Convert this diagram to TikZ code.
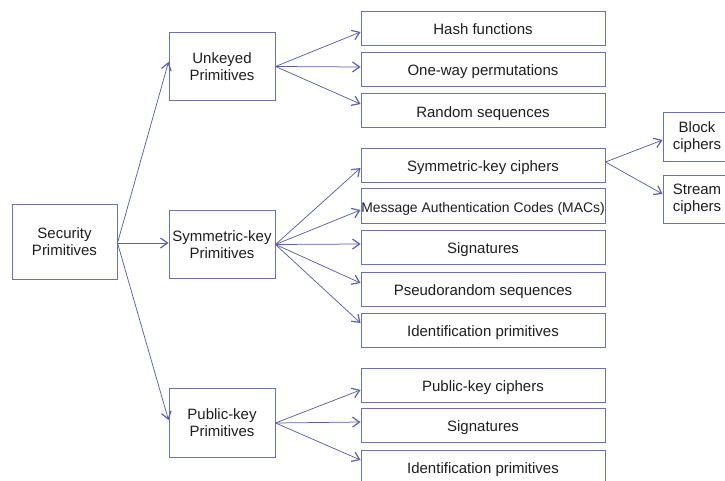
\documentclass[tikz,border=0pt]{standalone}
\usepackage{fontspec}
\setmainfont{Liberation Sans}
\usetikzlibrary{arrows.meta,calc}
\definecolor{boxline}{RGB}{108,113,178}
\definecolor{arrowline}{RGB}{92,96,168}
\definecolor{labeltext}{RGB}{30,30,30}
\begin{document}
\begin{tikzpicture}[x=1pt,y=-1pt,
  box/.style={draw=boxline, line width=1pt, fill=white, text=labeltext,
    inner sep=0pt, align=center, font=\fontsize{15}{17}\selectfont},
  leafbox/.style={box, minimum width=244pt, minimum height=34pt,
    text height=12.5pt, text depth=0pt},
  groupbox/.style={box, minimum width=106pt, minimum height=68pt},
  link/.style={draw=arrowline, line width=0.75pt,
    -{Straight Barb[length=7pt,width=10pt,line width=1.2pt]}}]
\useasboundingbox (0,0) rectangle (725,481);
\clip (0,0) rectangle (725,481);

% root and the three families
\node[box, minimum width=105pt, minimum height=75pt] (sec) at (64.5,241.5) {Security\\Primitives};
\node[groupbox] (unk) at (222,66.5) {Unkeyed\\Primitives};
\node[groupbox] (sym) at (222,244.5) {Symmetric-key\\Primitives};
\node[groupbox, minimum height=69pt] (pub) at (222,423) {Public-key\\Primitives};

% unkeyed primitives
\node[leafbox] (hash) at (483,28.5) {Hash functions};
\node[leafbox] (owp) at (483,69.5) {One-way permutations};
\node[leafbox] (rnd) at (483,111) {Random sequences};

% symmetric-key primitives
\node[leafbox] (skc) at (483,165.5) {Symmetric-key ciphers};
\node[leafbox, font=\fontsize{13.9}{16}\selectfont] (mac) at (483,206) {Message Authentication Codes (MACs)};
\node[leafbox] (ssig) at (483,247) {Signatures};
\node[leafbox] (prs) at (483,289) {Pseudorandom sequences};
\node[leafbox] (sid) at (483,330) {Identification primitives};

% public-key primitives
\node[leafbox] (pkc) at (483,385) {Public-key ciphers};
\node[leafbox] (psig) at (483,425) {Signatures};
\node[leafbox] (pid) at (483,467) {Identification primitives};

% kinds of symmetric-key ciphers
\node[box, minimum width=68pt, minimum height=49pt] (blk) at (697,137.5) {Block\\ciphers};
\node[box, minimum width=68pt, minimum height=47pt] (str) at (697,199.5) {Stream\\ciphers};

% connectors
\coordinate (secout) at ($(sec.east)+(0,1.5)$);
\draw[link] (secout) -- ($(unk.west)+(0,-4.5)$);
\draw[link] (secout) -- ($(sym.west)+(0,-1.5)$);
\draw[link] (secout) -- ($(pub.west)+(0,-3)$);

\draw[link] (unk.east) -- ($(hash.west)+(0,3.5)$);
\draw[link] (unk.east) -- ($(owp.west)+(0,-2.5)$);
\draw[link] (unk.east) -- ($(rnd.west)+(0,-7)$);

\draw[link] (sym.east) -- ($(skc.west)+(0,2.5)$);
\draw[link] (sym.east) -- ($(mac.west)+(0,4)$);
\draw[link] (sym.east) -- ($(ssig.west)+(0,-3)$);
\draw[link] (sym.east) -- ($(prs.west)+(0,-6)$);
\draw[link] (sym.east) -- ($(sid.west)+(0,-7)$);

\draw[link] (pub.east) -- ($(pkc.west)+(0,5)$);
\draw[link] (pub.east) -- ($(psig.west)+(0,-3)$);
\draw[link] (pub.east) -- ($(pid.west)+(0,-7)$);

\coordinate (skcout) at ($(skc.east)+(0,-3.5)$);
\draw[link] (skcout) -- ($(blk.west)+(0,2.5)$);
\draw[link] (skcout) -- ($(str.west)+(0,-5.5)$);
\end{tikzpicture}
\end{document}
